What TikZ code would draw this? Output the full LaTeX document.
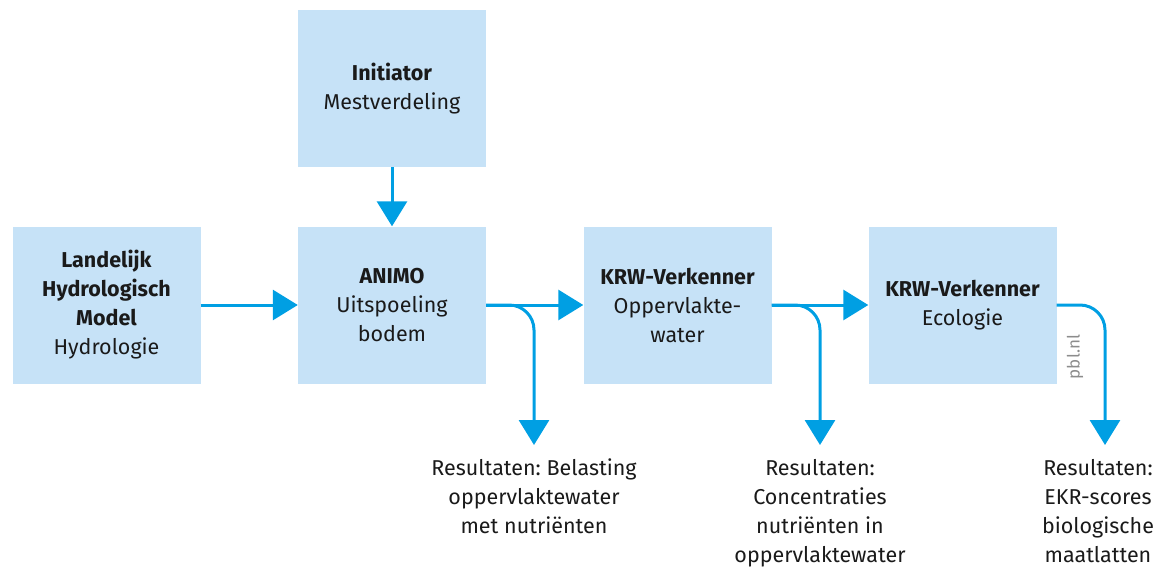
\documentclass[tikz,border=0pt]{standalone}
\usepackage{fontspec}
\setmainfont{Fira Sans}
\usetikzlibrary{arrows.meta}
\definecolor{boxfill}{HTML}{C6E2F7}
\definecolor{flowblue}{HTML}{009FE3}
\definecolor{txt}{HTML}{1A1A1A}
\definecolor{pblgrey}{HTML}{8C8C8C}
\tikzset{
  modelbox/.style={fill=boxfill, draw=none, minimum width=188pt, minimum height=157pt, inner sep=0pt, align=center, text=txt, font=\fontsize{21.5}{29}\selectfont},
  flow/.style={draw=flowblue, line width=3pt, -{Triangle[length=25pt,width=30pt]}},
  result/.style={anchor=north, align=center, text=txt, inner sep=0pt, font=\fontsize{21.5}{29}\selectfont},
}
\frenchspacing
\begin{document}
\begin{tikzpicture}[x=1pt,y=-1pt]
\useasboundingbox (0,0) rectangle (1159,570);
\node[modelbox] (init) at (392,88.5) {\textbf{Initiator}\\Mestverdeling};
\node[modelbox] (lhm) at (106.5,305) {\textbf{Landelijk}\\\textbf{Hydrologisch}\\\textbf{Model}\\Hydrologie};
\node[modelbox] (animo) at (392,305) {\textbf{ANIMO}\\Uitspoeling\\bodem};
\node[modelbox] (krw1) at (677.5,305) {\textbf{KRW-Verkenner}\\Oppervlakte-\\water};
\node[modelbox] (krw2) at (962.5,305) {\textbf{KRW-Verkenner}\\Ecologie};

\coordinate (e1) at (534,445);
\coordinate (e2) at (820,445);
\coordinate (e3) at (1105,445);

\draw[flow] (init) -- (animo);
\draw[flow] (lhm) -- (animo);
\draw[flow] (animo) -- (krw1);
\draw[flow] (krw1) -- (krw2);
\draw[flow, rounded corners=25pt] (animo.east) -| (e1);
\draw[flow, rounded corners=25pt] (krw1.east) -| (e2);
\draw[flow, rounded corners=25pt] (krw2.east) -| (e3);

\node[result] (r1) at (534,459) {Resultaten: Belasting\\oppervlaktewater\\met nutriënten};
\node[result] (r2) at (820,459) {Resultaten:\\Concentraties\\nutriënten in\\oppervlaktewater};
\node[result] (r3) at (1098,459) {Resultaten:\\EKR-scores\\biologische\\maatlatten};
\node[rotate=90, text=pblgrey, font=\fontsize{17}{20}\selectfont, inner sep=0pt] (pbl) at (1075,357) {pbl.nl};
\end{tikzpicture}
\end{document}
